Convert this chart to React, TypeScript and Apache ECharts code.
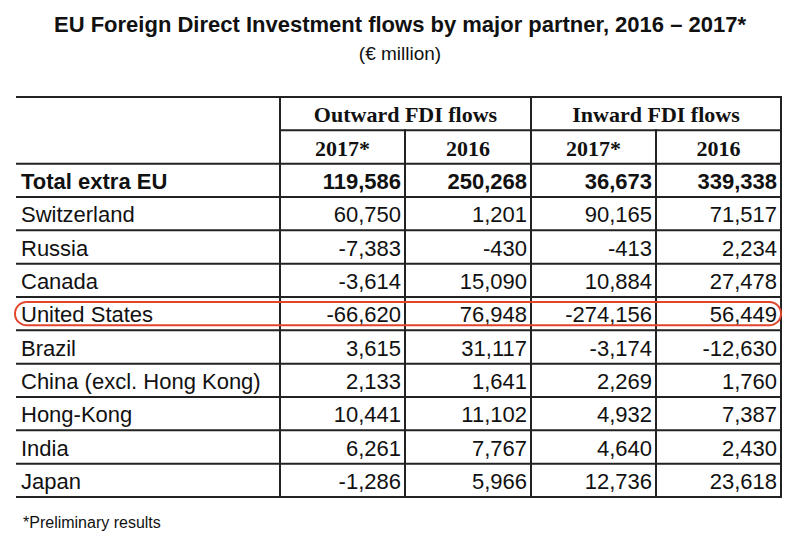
import React, { useEffect, useRef } from "react";
import * as echarts from "echarts";

// ---- data ----
const partners = [
  "Total extra EU",
  "Switzerland",
  "Russia",
  "Canada",
  "United States",
  "Brazil",
  "China (excl. Hong Kong)",
  "Hong-Kong",
  "India",
  "Japan",
];
const outward2017 = [119586, 60750, -7383, -3614, -66620, 3615, 2133, 10441, 6261, -1286];
const outward2016 = [250268, 1201, -430, 15090, 76948, 31117, 1641, 11102, 7767, 5966];
const inward2017 = [36673, 90165, -413, 10884, -274156, -3174, 2269, 4932, 4640, 12736];
const inward2016 = [339338, 71517, 2234, 27478, 56449, -12630, 1760, 7387, 2430, 23618];
const flowGroups = ["Outward FDI flows", "Inward FDI flows"];
const yearLabels = ["2017*", "2016", "2017*", "2016"];
const totalRow = "Total extra EU";
const highlightedPartner = "United States";
const titleText = "EU Foreign Direct Investment flows by major partner, 2016 \u2013 2017*";
const subtitleText = "(\u20ac million)";
const footnoteText = "*Preliminary results";

// ---- layout (axis units: x in px-like units, y in rows) ----
const colEdges = [0, 264, 389, 515, 640, 765];
const headerRows = 2;
const totalRows = headerRows + partners.length;

const SANS = "'Liberation Sans', Arial, sans-serif";
const SERIF = "'Liberation Serif', 'Times New Roman', serif";
const TEXT = "#111111";
const LINE = "#222222";

type Cell = {
  x: number;
  y: number;
  text: string;
  align: "left" | "center" | "right";
  font: string;
};

function fmt(v: number): string {
  return v.toLocaleString("en-US");
}

function buildCells(): Cell[] {
  const cells: Cell[] = [];
  const headFont = `bold 22px ${SERIF}`;
  flowGroups.forEach((g, i) => {
    const a = colEdges[1 + i * 2];
    const b = colEdges[3 + i * 2];
    cells.push({ x: (a + b) / 2, y: 0.5, text: g, align: "center", font: headFont });
  });
  yearLabels.forEach((yl, j) => {
    const a = colEdges[1 + j];
    const b = colEdges[2 + j];
    cells.push({ x: (a + b) / 2, y: 1.5, text: yl, align: "center", font: headFont });
  });
  const cols = [outward2017, outward2016, inward2017, inward2016];
  partners.forEach((p, r) => {
    const bold = p === totalRow;
    const font = `${bold ? "bold " : ""}22px ${SANS}`;
    const y = headerRows + r + 0.5;
    cells.push({ x: colEdges[0] + 5, y, text: p, align: "left", font });
    cols.forEach((arr, j) => {
      cells.push({ x: colEdges[j + 2] - 4, y, text: fmt(arr[r]), align: "right", font });
    });
  });
  return cells;
}

export default function App() {
  const ref = useRef<HTMLDivElement>(null);

  useEffect(() => {
    document.body.style.margin = "0";
    if (!ref.current) return;
    const chart = echarts.init(ref.current, undefined, { renderer: "svg" });
    const cells = buildCells();
    const hlRow = headerRows + partners.indexOf(highlightedPartner);

    const option: any = {
      animation: false,
      backgroundColor: "#ffffff",
      title: [
        {
          text: titleText,
          left: "center",
          top: 8,
          textStyle: { fontFamily: SANS, fontWeight: "bold", fontSize: 22, color: TEXT },
        },
        {
          text: subtitleText,
          left: "center",
          top: 39,
          textStyle: { fontFamily: SANS, fontWeight: "normal", fontSize: 19, color: TEXT },
        },
        {
          text: footnoteText,
          left: 18,
          top: 509,
          textStyle: { fontFamily: SANS, fontWeight: "normal", fontSize: 16, color: TEXT },
        },
      ],
      grid: { left: 16, right: 19, top: 97, bottom: 45 },
      xAxis: { type: "value", min: 0, max: colEdges[colEdges.length - 1], show: false },
      yAxis: { type: "value", min: 0, max: totalRows, inverse: true, show: false },
      series: [
        {
          type: "custom",
          name: "grid-lines",
          clip: false,
          silent: true,
          z: 1,
          data: [[0, 0]],
          renderItem: (_params: any, api: any) => {
            const children: any[] = [];
            const hLine = (y: number, x0: number, x1: number) => {
              const p0 = api.coord([x0, y]);
              const p1 = api.coord([x1, y]);
              children.push({
                type: "line",
                shape: { x1: p0[0], y1: p0[1], x2: p1[0], y2: p1[1] },
                style: { stroke: LINE, lineWidth: 2 },
              });
            };
            const vLine = (x: number, y0: number, y1: number) => {
              const p0 = api.coord([x, y0]);
              const p1 = api.coord([x, y1]);
              children.push({
                type: "line",
                shape: { x1: p0[0], y1: p0[1] - 1, x2: p1[0], y2: p1[1] + 1 },
                style: { stroke: LINE, lineWidth: 2 },
              });
            };
            const full = colEdges[colEdges.length - 1];
            hLine(0, 0, full);
            hLine(1, colEdges[1], full);
            for (let r = headerRows; r <= totalRows; r++) hLine(r, 0, full);
            vLine(colEdges[1], 0, totalRows);
            vLine(colEdges[2], 1, totalRows);
            vLine(colEdges[3], 0, totalRows);
            vLine(colEdges[4], 1, totalRows);
            vLine(colEdges[5], 0, totalRows);
            return { type: "group", children };
          },
        },
        {
          type: "custom",
          name: "cells",
          clip: false,
          silent: true,
          z: 3,
          data: cells.map((c) => [c.x, c.y]),
          renderItem: (params: any, api: any) => {
            const c = cells[params.dataIndex];
            const p = api.coord([c.x, c.y]);
            return {
              type: "text",
              style: {
                x: p[0],
                y: p[1] + 1,
                text: c.text,
                font: c.font,
                fill: TEXT,
                align: c.align,
                verticalAlign: "middle",
              },
            };
          },
        },
        {
          type: "custom",
          name: "highlight",
          clip: false,
          silent: true,
          z: 4,
          data: [[0, hlRow]],
          renderItem: (_params: any, api: any) => {
            const p0 = api.coord([0, hlRow]);
            const p1 = api.coord([colEdges[colEdges.length - 1], hlRow + 1]);
            const h = p1[1] - p0[1] - 10;
            return {
              type: "rect",
              shape: {
                x: p0[0] - 1,
                y: p0[1] + 5,
                width: p1[0] - p0[0] + 1,
                height: h,
                r: h / 2,
              },
              style: { fill: "none", stroke: "#e2442c", lineWidth: 2 },
            };
          },
        },
      ],
    };
    chart.setOption(option);
    return () => chart.dispose();
  }, []);

  return <div ref={ref} style={{ width: 800, height: 542 }} />;
}
